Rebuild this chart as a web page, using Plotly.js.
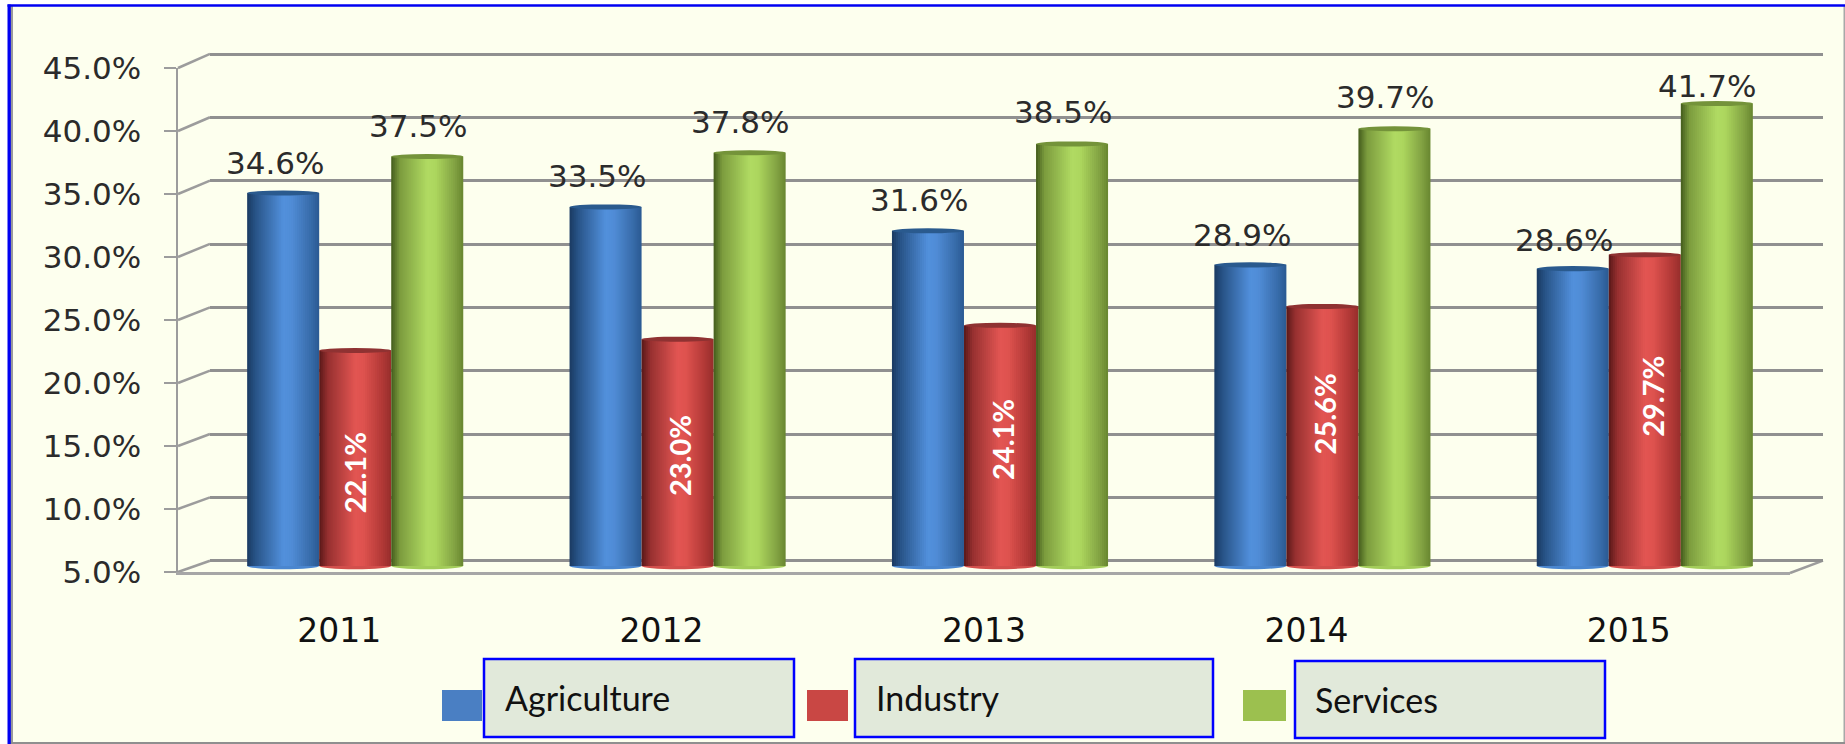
<!DOCTYPE html>
<html><head><meta charset="utf-8">
<script src="https://cdn.plot.ly/plotly-3.0.0.min.js"></script>
<style>html,body{margin:0;padding:0;background:#fff}#c{width:1845px;height:744px}</style>
</head><body><div id="c"></div>
<script>
const years = ['2011','2012','2013','2014','2015'];
const seriesNames = ['Agriculture','Industry','Services'];
const agriculture = [34.6,33.5,31.6,28.9,28.6];
const industry = [22.1,23.0,24.1,25.6,29.7];
const services = [37.5,37.8,38.5,39.7,41.7];
const yTicks = [5,10,15,20,25,30,35,40,45];
const yTickLabels = ['5.0%','10.0%','15.0%','20.0%','25.0%','30.0%','35.0%','40.0%','45.0%'];
// hand-placed label positions in the source
const agriShift = [-30,-30.5,-30.5,-30,-28.6];
const servShift = [-31,-31,-32,-32,-18];
const indLabelY = [473,456,440,414,396];
const indLabelDx = [-1,1.5,2,3,7];

const W=1845,H=744;
const px=x=>x/W, py=y=>1-y/H;
const BG='#FDFFEE', GRID='#909090', AX='#9c9c9c';

// shading across a cylinder: [fraction, colour]
const ramps=[
 [[0,[26,58,98]],[.12,[40,84,136]],[.5,[82,144,220]],[.62,[80,140,214]],[.88,[56,108,170]],[1,[42,90,146]]],
 [[0,[88,24,24]],[.12,[150,48,48]],[.5,[226,85,82]],[.62,[222,82,78]],[.88,[176,56,54]],[1,[150,46,44]]],
 [[0,[68,92,28]],[.12,[124,156,62]],[.5,[176,218,98]],[.62,[172,214,94]],[.88,[130,162,66]],[1,[104,134,48]]]
];
function shade(r,t){for(let i=1;i<r.length;i++){if(t<=r[i][0]){const a=r[i-1],b=r[i],k=(t-a[0])/(b[0]-a[0]);
 const c=a[1].map((v,j)=>Math.round(v+(b[1][j]-v)*k));return `rgb(${c})`;}}return `rgb(${r[r.length-1][1]})`;}

const values=[agriculture,industry,services];
const barW=72/322.25, N=36, sw=barW/N;
const traces=[];
traces.push({type:'scatter',x:years,y:years.map(()=>null),xaxis:'x',yaxis:'y',showlegend:false,hoverinfo:'skip'});
values.forEach((vals,s)=>{
 for(let k=0;k<N;k++){
  const t=(k+.5)/N;
  traces.push({type:'bar',name:seriesNames[s],x:years,y:vals.map(v=>v-5),base:years.map(()=>5),
   offset:years.map(()=>(s-1.5)*barW+k*sw),width:years.map(()=>sw*(k==N-1?1:1.5)),
   marker:{color:shade(ramps[s],t),line:{width:0}},xaxis:'x2',yaxis:'y2',showlegend:false,hoverinfo:'skip'});
 }
});
traces.push({type:'scatter',x:years,y:years.map(()=>null),xaxis:'x3',yaxis:'y3',showlegend:false,hoverinfo:'skip'});

const shapes=[];
shapes.push({type:'rect',xref:'paper',yref:'paper',x0:px(11),x1:px(1845),y0:py(744),y1:py(6),fillcolor:BG,line:{width:0},layer:'below'});
[[10,6,13,744,'#9a9a9a'],[1843.5,6,1845,744,'#a8a8a8'],[11,742,1845,744,'#8f8f8f'],[7.5,4.5,10.8,744,'#0000F2'],[7.5,4.3,1845,6.8,'#0000F2']].forEach(r=>
 shapes.push({type:'rect',xref:'paper',yref:'paper',x0:px(r[0]),x1:px(r[2]),y0:py(r[3]),y1:py(r[1]),fillcolor:r[4],line:{width:0},layer:'below'}));
const frontY=v=>572-(v-5)*12.6, backY=v=>560.7-(v-5)*12.67;
yTicks.forEach(v=>shapes.push({type:'line',xref:'paper',yref:'paper',x0:px(178),x1:px(210),y0:py(frontY(v)),y1:py(backY(v)),line:{color:AX,width:2.5},layer:'below'}));
shapes.push({type:'line',xref:'paper',yref:'paper',x0:px(1790),x1:px(1823),y0:py(573),y1:py(560.7),line:{color:AX,width:2.5},layer:'below'});

const capDark=['#2a5a8e','#8f3232','#74933a'], bottomMid=['#4a86cf','#d24f4c','#a3cc5a'];
values.forEach((vals,s)=>vals.forEach((v,i)=>{
 const x0=i+(s-1.5)*barW,x1=x0+barW;
 shapes.push({type:'circle',xref:'x2',yref:'y2',x0,x1,y0:v-.2,y1:v+.2,fillcolor:capDark[s],line:{width:0},layer:'above'});
 shapes.push({type:'circle',xref:'x2',yref:'y2',x0,x1,y0:4.75,y1:5.25,fillcolor:bottomMid[s],line:{width:0},layer:'below'});
}));

const boxes=[[484,794,659,737,442,482,'#4A7FC3',503],[855,1213,659,737,807,848,'#C94744',874],[1295,1605,661,738,1243,1286,'#9CC04F',1313]];
const annotations=[];
boxes.forEach((b,i)=>{
 shapes.push({type:'rect',xref:'paper',yref:'paper',x0:px(b[0]),x1:px(b[1]),y0:py(b[3]),y1:py(b[2]),fillcolor:'#E1E9DA',line:{color:'#0000FF',width:2.5},layer:'below'});
 shapes.push({type:'rect',xref:'paper',yref:'paper',x0:px(b[4]),x1:px(b[5]),y0:py(721),y1:py(690),fillcolor:b[6],line:{width:0},layer:'below'});
 annotations.push({xref:'paper',yref:'paper',x:px(b[7]),y:py(b[2]+38),xanchor:'left',yanchor:'middle',showarrow:false,text:seriesNames[i],font:{family:'Lato, sans-serif',size:34,color:'#111'}});
});
const lblFont={family:'"DejaVu Sans", sans-serif',size:31,color:'#2b2b2b'};
years.forEach((yr,i)=>{
 annotations.push({xref:'x2',yref:'y2',x:i-barW-8.5/322.25,y:agriculture[i],yshift:-agriShift[i],yanchor:'middle',xanchor:'center',showarrow:false,text:agriculture[i].toFixed(1)+'%',font:lblFont});
 annotations.push({xref:'x2',yref:'y2',x:i+barW-9.5/322.25,y:services[i],yshift:-servShift[i],yanchor:'middle',xanchor:'center',showarrow:false,text:services[i].toFixed(1)+'%',font:lblFont});
 annotations.push({xref:'x2',yref:'paper',x:i+indLabelDx[i]/322.25,y:py(indLabelY[i]),yanchor:'middle',xanchor:'center',textangle:-90,showarrow:false,text:'<b>'+industry[i].toFixed(1)+'%</b>',font:{family:'Lato, sans-serif',size:29,color:'#fff'}});
});

const noAxis={showgrid:false,zeroline:false,showticklabels:false,ticks:'',showline:false};
const layout={width:W,height:H,margin:{l:0,r:0,t:0,b:0},paper_bgcolor:'#fff',plot_bgcolor:'rgba(0,0,0,0)',
 barmode:'overlay',showlegend:false,
 xaxis:{...noAxis,domain:[px(210),px(1823)],type:'category',categoryorder:'array',categoryarray:years,range:[-.5,4.5],anchor:'y'},
 yaxis:{...noAxis,domain:[py(560.7+12.67),py(54-12.67)],range:[4,46],tickvals:yTicks,showgrid:true,gridcolor:GRID,gridwidth:3,anchor:'x'},
 xaxis2:{...noAxis,domain:[px(194),px(1806)],type:'category',categoryorder:'array',categoryarray:years,range:[-.5,4.5],anchor:'y2'},
 yaxis2:{...noAxis,domain:[py(566+12.6),py(62)],range:[4,45],anchor:'x2'},
 xaxis3:{domain:[px(178),px(1790)],type:'category',categoryorder:'array',categoryarray:years,range:[-.5,4.5],anchor:'y3',showgrid:false,zeroline:false,
  showline:true,linecolor:'#a6a6a6',linewidth:3,ticks:'',ticklabelstandoff:27,tickfont:{family:'"DejaVu Sans", sans-serif',size:33,color:'#111'}},
 yaxis3:{domain:[py(572),py(68)],range:[5,45],tickvals:yTicks,ticktext:yTickLabels,anchor:'x3',showgrid:false,zeroline:false,
  showline:true,linecolor:AX,linewidth:2.5,ticks:'outside',ticklen:12,tickwidth:2.5,tickcolor:AX,ticklabelstandoff:16,tickfont:lblFont},
 shapes,annotations};
Plotly.newPlot('c',traces,layout,{displayModeBar:false,staticPlot:true});
</script></body></html>
